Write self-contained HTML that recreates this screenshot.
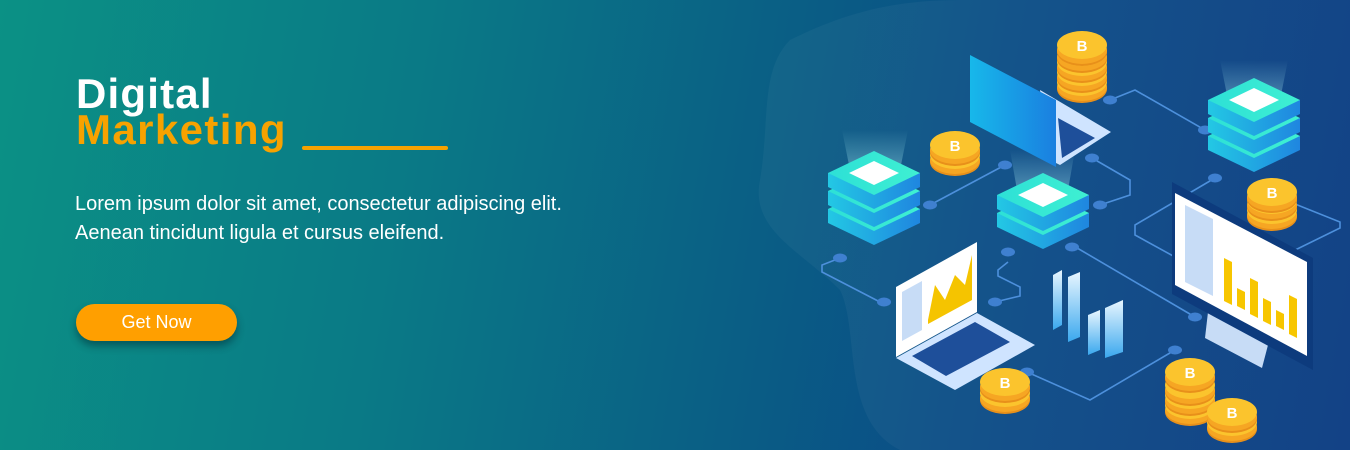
<!DOCTYPE html>
<html><head><meta charset="utf-8"><style>
html,body{margin:0;padding:0}
body{width:1350px;height:450px;overflow:hidden;position:relative;font-family:"Liberation Sans",sans-serif;
background:linear-gradient(100deg,#0b9185 0%,#0a7a86 30%,#0a5f85 55%,#0b4a86 75%,#0a3b82 100%);}
.t1{position:absolute;left:76px;top:70px;font-size:42px;font-weight:bold;color:#fff;letter-spacing:1.2px}
.t2{position:absolute;left:76px;top:106px;font-size:42px;font-weight:bold;color:#f7a200;letter-spacing:1.4px}
.ul{position:absolute;left:302px;top:146px;width:146px;height:4px;background:#f7a200;border-radius:2px}
.p{position:absolute;left:75px;top:190px;font-size:20px;line-height:29px;color:#fff}
.btn{position:absolute;left:76px;top:304px;width:161px;height:37px;border-radius:19px;background:#ff9f00;color:#fff;font-size:18px;text-align:center;line-height:37px;box-shadow:0 5px 8px rgba(0,30,40,.45)}
svg{position:absolute;left:0;top:0}
</style></head><body>
<svg width="1350" height="450" viewBox="0 0 1350 450">
<defs>
<linearGradient id="side" x1="0" x2="1"><stop offset="0" stop-color="#23c8e4"/><stop offset="1" stop-color="#1f86e0"/></linearGradient>
<linearGradient id="top" x1="0" x2="1"><stop offset="0" stop-color="#2de0d6"/><stop offset="1" stop-color="#3ff0d2"/></linearGradient>
<linearGradient id="beam" x1="0" y1="1" x2="0" y2="0"><stop offset="0" stop-color="#bff" stop-opacity=".35"/><stop offset="1" stop-color="#bff" stop-opacity="0"/></linearGradient>
<linearGradient id="scr" x1="0" x2="1"><stop offset="0" stop-color="#17b8ea"/><stop offset="1" stop-color="#1a7fe0"/></linearGradient>
<linearGradient id="bar" x1="0" y1="0" x2="0" y2="1"><stop offset="0" stop-color="#e8f6ff"/><stop offset="1" stop-color="#3aa8ee"/></linearGradient>
<g id="layer">
<path d="M-46 0 L-46 14 L0 36 L46 14 L46 0 Z" fill="url(#side)"/>
<path d="M0 -22 L46 0 L0 22 L-46 0 Z" fill="url(#top)"/>
</g>
<g id="coin">
<ellipse cx="0" cy="7" rx="25" ry="14" fill="#e8901a"/>
<ellipse cx="0" cy="5" rx="25" ry="14" fill="#f6a623"/>
<ellipse cx="0" cy="0" rx="25" ry="14" fill="#fbc42d"/>
</g>
</defs>
<path d="M790 40 C850 10 900 0 960 0 L1350 0 L1350 450 L900 450 C840 420 860 330 840 290 C800 250 750 230 760 180 C770 120 760 70 790 40 Z" fill="#ffffff" opacity="0.04"/>
<g fill="none" stroke="#4d90dc" stroke-width="1.6">
<polyline points="1110,100 1135,90 1205,130"/>
<polyline points="930,205 1005,165"/>
<polyline points="1092,158 1130,180 1130,195 1100,205"/>
<polyline points="1215,178 1135,225 1135,235 1175,257"/>
<polyline points="1285,200 1340,222 1340,228 1285,255"/>
<polyline points="840,258 822,265 822,272 880,302"/>
<polyline points="1008,262 998,270 998,276 1020,287 1020,296 995,302"/>
<polyline points="1072,245 1195,317"/>
<polyline points="1027,372 1090,400 1175,350"/>
</g>
<g fill="#3f80d0">
<ellipse cx="1110" cy="100" rx="7" ry="4.5"/><ellipse cx="1205" cy="130" rx="7" ry="4.5"/>
<ellipse cx="930" cy="205" rx="7" ry="4.5"/><ellipse cx="1005" cy="165" rx="7" ry="4.5"/>
<ellipse cx="1092" cy="158" rx="7" ry="4.5"/><ellipse cx="1100" cy="205" rx="7" ry="4.5"/>
<ellipse cx="1215" cy="178" rx="7" ry="4.5"/><ellipse cx="1285" cy="200" rx="7" ry="4.5"/>
<ellipse cx="840" cy="258" rx="7" ry="4.5"/><ellipse cx="884" cy="302" rx="7" ry="4.5"/>
<ellipse cx="1008" cy="252" rx="7" ry="4.5"/><ellipse cx="995" cy="302" rx="7" ry="4.5"/>
<ellipse cx="1072" cy="247" rx="7" ry="4.5"/><ellipse cx="1195" cy="317" rx="7" ry="4.5"/>
<ellipse cx="1027" cy="372" rx="7" ry="4.5"/><ellipse cx="1175" cy="350" rx="7" ry="4.5"/>
</g>
<path d="M842 130 L908 130 L900 170 L850 170 Z" fill="url(#beam)"/>
<path d="M1010 150 L1075 150 L1068 190 L1017 190 Z" fill="url(#beam)"/>
<path d="M1220 60 L1288 60 L1280 100 L1228 100 Z" fill="url(#beam)"/>
<g transform="translate(874,173)"><use href="#layer" y="36"/><use href="#layer" y="18"/><use href="#layer"/><path d="M0 -12 L25 0 L0 12 L-25 0 Z" fill="#fff"/></g>
<g transform="translate(1043,195)"><use href="#layer" y="18"/><use href="#layer"/><path d="M0 -12 L25 0 L0 12 L-25 0 Z" fill="#fff"/></g>
<g transform="translate(1254,100)"><use href="#layer" y="36"/><use href="#layer" y="18"/><use href="#layer"/><path d="M0 -12 L25 0 L0 12 L-25 0 Z" fill="#fff"/></g>
<path d="M1040 90 L1111 132 L1060 165 L1050 160 Z" fill="#cfe4ff"/>
<path d="M1058 118 L1095 138 L1062 158 Z" fill="#1e4f9a"/>
<path d="M970 55 L1056 100 L1056 167 L970 122 Z" fill="url(#scr)"/>
<path d="M896 287 L977 242 L977 312 L896 357 Z" fill="#fff"/>
<path d="M902 292 L922 281 L922 330 L902 341 Z" fill="#c7dcf6"/>
<path d="M928 320 L935 285 L945 300 L955 275 L965 285 L972 255 L972 300 L928 324 Z" fill="#f5c400"/>
<path d="M896 358 L977 313 L1035 345 L955 390 Z" fill="#cfe4ff"/>
<path d="M912 356 L975 322 L1010 342 L946 376 Z" fill="#1e4f9a"/>
<path d="M1053 275 L1062 270 L1062 325 L1053 330 Z" fill="url(#bar)"/>
<path d="M1068 277 L1080 272 L1080 337 L1068 342 Z" fill="url(#bar)"/>
<path d="M1088 315 L1100 310 L1100 350 L1088 355 Z" fill="url(#bar)"/>
<path d="M1105 308 L1123 300 L1123 352 L1105 358 Z" fill="url(#bar)"/>
<path d="M1208 312 L1268 345 L1262 368 L1205 338 Z" fill="#c7dcf6"/>
<path d="M1172 182 L1313 258 L1313 370 L1172 294 Z" fill="#0d3b7d"/>
<path d="M1175 193 L1307 262 L1307 356 L1175 285 Z" fill="#fff"/>
<path d="M1185 205 L1213 219 L1213 296 L1185 282 Z" fill="#c7dcf6"/>
<g fill="#f7c600">
<path d="M1224 258 L1232 262 L1232 305 L1224 301 Z"/>
<path d="M1237 288 L1245 292 L1245 310 L1237 306 Z"/>
<path d="M1250 278 L1258 282 L1258 318 L1250 314 Z"/>
<path d="M1263 298 L1271 302 L1271 325 L1263 321 Z"/>
<path d="M1276 310 L1284 314 L1284 330 L1276 326 Z"/>
<path d="M1289 295 L1297 299 L1297 338 L1289 334 Z"/>
</g>
<g>
<use href="#coin" x="1082" y="82"/><use href="#coin" x="1082" y="72"/><use href="#coin" x="1082" y="62"/><use href="#coin" x="1082" y="52"/><use href="#coin" x="1082" y="45"/>
<use href="#coin" x="955" y="155"/><use href="#coin" x="955" y="145"/>
<use href="#coin" x="1272" y="210"/><use href="#coin" x="1272" y="200"/><use href="#coin" x="1272" y="192"/>
<use href="#coin" x="1005" y="393"/><use href="#coin" x="1005" y="382"/>
<use href="#coin" x="1190" y="405"/><use href="#coin" x="1190" y="395"/><use href="#coin" x="1190" y="385"/><use href="#coin" x="1190" y="372"/>
<use href="#coin" x="1232" y="422"/><use href="#coin" x="1232" y="412"/>
</g>
<g fill="#fff" font-family="Liberation Sans" font-weight="bold" font-size="15" text-anchor="middle">
<text x="1082" y="51">B</text><text x="955" y="151">B</text><text x="1272" y="198">B</text>
<text x="1005" y="388">B</text><text x="1190" y="378">B</text><text x="1232" y="418">B</text>
</g>
</svg>
<div class="t1">Digital</div>
<div class="t2">Marketing</div>
<div class="ul"></div>
<div class="p">Lorem ipsum dolor sit amet, consectetur adipiscing elit.<br>Aenean tincidunt ligula et cursus eleifend.</div>
<div class="btn">Get Now</div>
</body></html>
